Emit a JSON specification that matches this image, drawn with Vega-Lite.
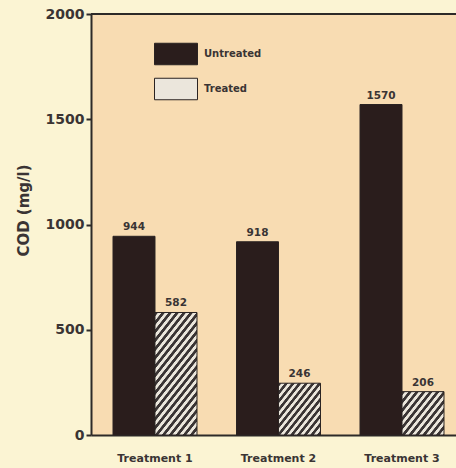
{
  "$schema": "https://vega.github.io/schema/vega-lite/v6.json",
  "width": 365,
  "height": 421,
  "autosize": {"type": "none"},
  "padding": {"left": 91, "top": 14, "right": 0, "bottom": 33},
  "background": "#fbf4d3",
  "config": {
    "view": {"fill": "#f8dcb2", "stroke": null},
    "font": "DejaVu Sans",
    "axis": {"domainColor": "#2d2a28", "domainWidth": 2, "tickColor": "#2d2a28", "tickWidth": 2, "labelColor": "#3a3434", "titleColor": "#3a3434", "labelFont": "DejaVu Sans", "titleFont": "DejaVu Sans", "labelFontWeight": "bold", "titleFontWeight": "bold", "grid": false}
  },
  "data": {
    "values": [
      {"treatment": "Treatment 1", "type": "Untreated", "cod": 944},
      {"treatment": "Treatment 1", "type": "Treated", "cod": 582},
      {"treatment": "Treatment 2", "type": "Untreated", "cod": 918},
      {"treatment": "Treatment 2", "type": "Treated", "cod": 246},
      {"treatment": "Treatment 3", "type": "Untreated", "cod": 1570},
      {"treatment": "Treatment 3", "type": "Treated", "cod": 206}
    ]
  },
  "encoding": {
    "x": {
      "field": "treatment", "type": "nominal",
      "scale": {"paddingInner": 0.32, "paddingOuter": 0.1377, "align": 0.647},
      "axis": {"title": null, "labelAngle": 0, "ticks": false, "labelPadding": 17, "labelFontSize": 11}
    },
    "xOffset": {"field": "type", "type": "nominal", "sort": ["Untreated", "Treated"], "scale": {"paddingInner": 0, "paddingOuter": 0}},
    "y": {
      "field": "cod", "type": "quantitative",
      "scale": {"domain": [0, 2000], "nice": false},
      "axis": {"values": [0, 500, 1000, 1500, 2000], "format": "d", "title": "COD (mg/l)", "tickSize": 5, "labelPadding": 2, "labelFontSize": 14, "titleFontSize": 15, "titlePadding": 14, "titleY": 196}
    }
  },
  "layer": [
    {
      "mark": {"type": "bar", "stroke": "#2a2322", "strokeWidth": 1},
      "encoding": {
        "fill": {
          "condition": [
            {"test": "datum.treatment === 'Treatment 1' && datum.type === 'Treated'", "value": {"gradient": "linear", "x1": 0, "y1": 0, "x2": 0.5172, "y2": 1.2069, "stops": [
              {"offset": 0, "color": "#3a3434"}, {"offset": 0.02, "color": "#3a3434"}, {"offset": 0.025, "color": "#ebe6dc"}, {"offset": 0.045, "color": "#ebe6dc"},
              {"offset": 0.05, "color": "#3a3434"}, {"offset": 0.07, "color": "#3a3434"}, {"offset": 0.075, "color": "#ebe6dc"}, {"offset": 0.095, "color": "#ebe6dc"},
              {"offset": 0.1, "color": "#3a3434"}, {"offset": 0.12, "color": "#3a3434"}, {"offset": 0.125, "color": "#ebe6dc"}, {"offset": 0.145, "color": "#ebe6dc"},
              {"offset": 0.15, "color": "#3a3434"}, {"offset": 0.17, "color": "#3a3434"}, {"offset": 0.175, "color": "#ebe6dc"}, {"offset": 0.195, "color": "#ebe6dc"},
              {"offset": 0.2, "color": "#3a3434"}, {"offset": 0.22, "color": "#3a3434"}, {"offset": 0.225, "color": "#ebe6dc"}, {"offset": 0.245, "color": "#ebe6dc"},
              {"offset": 0.25, "color": "#3a3434"}, {"offset": 0.27, "color": "#3a3434"}, {"offset": 0.275, "color": "#ebe6dc"}, {"offset": 0.295, "color": "#ebe6dc"},
              {"offset": 0.3, "color": "#3a3434"}, {"offset": 0.32, "color": "#3a3434"}, {"offset": 0.325, "color": "#ebe6dc"}, {"offset": 0.345, "color": "#ebe6dc"},
              {"offset": 0.35, "color": "#3a3434"}, {"offset": 0.37, "color": "#3a3434"}, {"offset": 0.375, "color": "#ebe6dc"}, {"offset": 0.395, "color": "#ebe6dc"},
              {"offset": 0.4, "color": "#3a3434"}, {"offset": 0.42, "color": "#3a3434"}, {"offset": 0.425, "color": "#ebe6dc"}, {"offset": 0.445, "color": "#ebe6dc"},
              {"offset": 0.45, "color": "#3a3434"}, {"offset": 0.47, "color": "#3a3434"}, {"offset": 0.475, "color": "#ebe6dc"}, {"offset": 0.495, "color": "#ebe6dc"},
              {"offset": 0.5, "color": "#3a3434"}, {"offset": 0.52, "color": "#3a3434"}, {"offset": 0.525, "color": "#ebe6dc"}, {"offset": 0.545, "color": "#ebe6dc"},
              {"offset": 0.55, "color": "#3a3434"}, {"offset": 0.57, "color": "#3a3434"}, {"offset": 0.575, "color": "#ebe6dc"}, {"offset": 0.595, "color": "#ebe6dc"},
              {"offset": 0.6, "color": "#3a3434"}, {"offset": 0.62, "color": "#3a3434"}, {"offset": 0.625, "color": "#ebe6dc"}, {"offset": 0.645, "color": "#ebe6dc"},
              {"offset": 0.65, "color": "#3a3434"}, {"offset": 0.67, "color": "#3a3434"}, {"offset": 0.675, "color": "#ebe6dc"}, {"offset": 0.695, "color": "#ebe6dc"},
              {"offset": 0.7, "color": "#3a3434"}, {"offset": 0.72, "color": "#3a3434"}, {"offset": 0.725, "color": "#ebe6dc"}, {"offset": 0.745, "color": "#ebe6dc"},
              {"offset": 0.75, "color": "#3a3434"}, {"offset": 0.77, "color": "#3a3434"}, {"offset": 0.775, "color": "#ebe6dc"}, {"offset": 0.795, "color": "#ebe6dc"},
              {"offset": 0.8, "color": "#3a3434"}, {"offset": 0.82, "color": "#3a3434"}, {"offset": 0.825, "color": "#ebe6dc"}, {"offset": 0.845, "color": "#ebe6dc"},
              {"offset": 0.85, "color": "#3a3434"}, {"offset": 0.87, "color": "#3a3434"}, {"offset": 0.875, "color": "#ebe6dc"}, {"offset": 0.895, "color": "#ebe6dc"},
              {"offset": 0.9, "color": "#3a3434"}, {"offset": 0.92, "color": "#3a3434"}, {"offset": 0.925, "color": "#ebe6dc"}, {"offset": 0.945, "color": "#ebe6dc"},
              {"offset": 0.95, "color": "#3a3434"}, {"offset": 0.97, "color": "#3a3434"}, {"offset": 0.975, "color": "#ebe6dc"}, {"offset": 1, "color": "#ebe6dc"}
            ]}},
            {"test": "datum.treatment === 'Treatment 2' && datum.type === 'Treated'", "value": {"gradient": "linear", "x1": 0, "y1": 0, "x2": 1.0067, "y2": 0.9933, "stops": [
              {"offset": 0, "color": "#3a3434"}, {"offset": 0.032, "color": "#3a3434"}, {"offset": 0.04, "color": "#ebe6dc"}, {"offset": 0.072, "color": "#ebe6dc"},
              {"offset": 0.08, "color": "#3a3434"}, {"offset": 0.112, "color": "#3a3434"}, {"offset": 0.12, "color": "#ebe6dc"}, {"offset": 0.152, "color": "#ebe6dc"},
              {"offset": 0.16, "color": "#3a3434"}, {"offset": 0.192, "color": "#3a3434"}, {"offset": 0.2, "color": "#ebe6dc"}, {"offset": 0.232, "color": "#ebe6dc"},
              {"offset": 0.24, "color": "#3a3434"}, {"offset": 0.272, "color": "#3a3434"}, {"offset": 0.28, "color": "#ebe6dc"}, {"offset": 0.312, "color": "#ebe6dc"},
              {"offset": 0.32, "color": "#3a3434"}, {"offset": 0.352, "color": "#3a3434"}, {"offset": 0.36, "color": "#ebe6dc"}, {"offset": 0.392, "color": "#ebe6dc"},
              {"offset": 0.4, "color": "#3a3434"}, {"offset": 0.432, "color": "#3a3434"}, {"offset": 0.44, "color": "#ebe6dc"}, {"offset": 0.472, "color": "#ebe6dc"},
              {"offset": 0.48, "color": "#3a3434"}, {"offset": 0.512, "color": "#3a3434"}, {"offset": 0.52, "color": "#ebe6dc"}, {"offset": 0.552, "color": "#ebe6dc"},
              {"offset": 0.56, "color": "#3a3434"}, {"offset": 0.592, "color": "#3a3434"}, {"offset": 0.6, "color": "#ebe6dc"}, {"offset": 0.632, "color": "#ebe6dc"},
              {"offset": 0.64, "color": "#3a3434"}, {"offset": 0.672, "color": "#3a3434"}, {"offset": 0.68, "color": "#ebe6dc"}, {"offset": 0.712, "color": "#ebe6dc"},
              {"offset": 0.72, "color": "#3a3434"}, {"offset": 0.752, "color": "#3a3434"}, {"offset": 0.76, "color": "#ebe6dc"}, {"offset": 0.792, "color": "#ebe6dc"},
              {"offset": 0.8, "color": "#3a3434"}, {"offset": 0.832, "color": "#3a3434"}, {"offset": 0.84, "color": "#ebe6dc"}, {"offset": 0.872, "color": "#ebe6dc"},
              {"offset": 0.88, "color": "#3a3434"}, {"offset": 0.912, "color": "#3a3434"}, {"offset": 0.92, "color": "#ebe6dc"}, {"offset": 0.952, "color": "#ebe6dc"},
              {"offset": 0.96, "color": "#3a3434"}, {"offset": 0.992, "color": "#3a3434"}, {"offset": 1, "color": "#ebe6dc"}
            ]}},
            {"test": "datum.treatment === 'Treatment 3' && datum.type === 'Treated'", "value": {"gradient": "linear", "x1": 0, "y1": 0, "x2": 1.0851, "y2": 0.897, "stops": [
              {"offset": 0, "color": "#3a3434"}, {"offset": 0.036, "color": "#3a3434"}, {"offset": 0.045, "color": "#ebe6dc"}, {"offset": 0.081, "color": "#ebe6dc"},
              {"offset": 0.09, "color": "#3a3434"}, {"offset": 0.126, "color": "#3a3434"}, {"offset": 0.135, "color": "#ebe6dc"}, {"offset": 0.171, "color": "#ebe6dc"},
              {"offset": 0.18, "color": "#3a3434"}, {"offset": 0.216, "color": "#3a3434"}, {"offset": 0.225, "color": "#ebe6dc"}, {"offset": 0.261, "color": "#ebe6dc"},
              {"offset": 0.27, "color": "#3a3434"}, {"offset": 0.306, "color": "#3a3434"}, {"offset": 0.315, "color": "#ebe6dc"}, {"offset": 0.351, "color": "#ebe6dc"},
              {"offset": 0.36, "color": "#3a3434"}, {"offset": 0.396, "color": "#3a3434"}, {"offset": 0.405, "color": "#ebe6dc"}, {"offset": 0.441, "color": "#ebe6dc"},
              {"offset": 0.45, "color": "#3a3434"}, {"offset": 0.486, "color": "#3a3434"}, {"offset": 0.495, "color": "#ebe6dc"}, {"offset": 0.531, "color": "#ebe6dc"},
              {"offset": 0.54, "color": "#3a3434"}, {"offset": 0.576, "color": "#3a3434"}, {"offset": 0.585, "color": "#ebe6dc"}, {"offset": 0.621, "color": "#ebe6dc"},
              {"offset": 0.63, "color": "#3a3434"}, {"offset": 0.666, "color": "#3a3434"}, {"offset": 0.675, "color": "#ebe6dc"}, {"offset": 0.711, "color": "#ebe6dc"},
              {"offset": 0.72, "color": "#3a3434"}, {"offset": 0.756, "color": "#3a3434"}, {"offset": 0.765, "color": "#ebe6dc"}, {"offset": 0.801, "color": "#ebe6dc"},
              {"offset": 0.81, "color": "#3a3434"}, {"offset": 0.846, "color": "#3a3434"}, {"offset": 0.855, "color": "#ebe6dc"}, {"offset": 0.891, "color": "#ebe6dc"},
              {"offset": 0.9, "color": "#3a3434"}, {"offset": 0.936, "color": "#3a3434"}, {"offset": 0.945, "color": "#ebe6dc"}, {"offset": 0.981, "color": "#ebe6dc"},
              {"offset": 0.99, "color": "#3a3434"}, {"offset": 1, "color": "#3a3434"}
            ]}}
          ],
          "field": "type", "type": "nominal",
          "scale": {"domain": ["Untreated", "Treated"], "range": ["#2a1d1c", "#ebe6dc"]},
          "legend": {
            "title": null, "orient": "none", "legendX": 63, "legendY": 18, "padding": 0,
            "symbolType": "M-1,-0.5H1V0.5H-1Z", "symbolSize": 1849, "symbolStrokeColor": "#2a2322", "symbolStrokeWidth": 1, "symbolOpacity": 1,
            "labelFont": "DejaVu Sans", "labelFontWeight": "bold", "labelFontSize": 10, "labelColor": "#3a3434", "labelOffset": 6, "rowPadding": -7,
            "encode": {"symbols": {"update": {
              "stroke": {"value": "#2a2322"},
              "strokeWidth": {"value": 1}
            }}}
          }
        }
      }
    },
    {
      "mark": {"type": "text", "baseline": "alphabetic", "dy": -6, "font": "DejaVu Sans", "fontWeight": "bold", "fontSize": 10.5, "color": "#3a3434"},
      "encoding": {"text": {"field": "cod", "type": "quantitative"}}
    },
    {
      "mark": {"type": "rule", "color": "#2d2a28", "strokeWidth": 2},
      "encoding": {"y": {"datum": 2000}, "x": null, "xOffset": null}
    }
  ]
}
